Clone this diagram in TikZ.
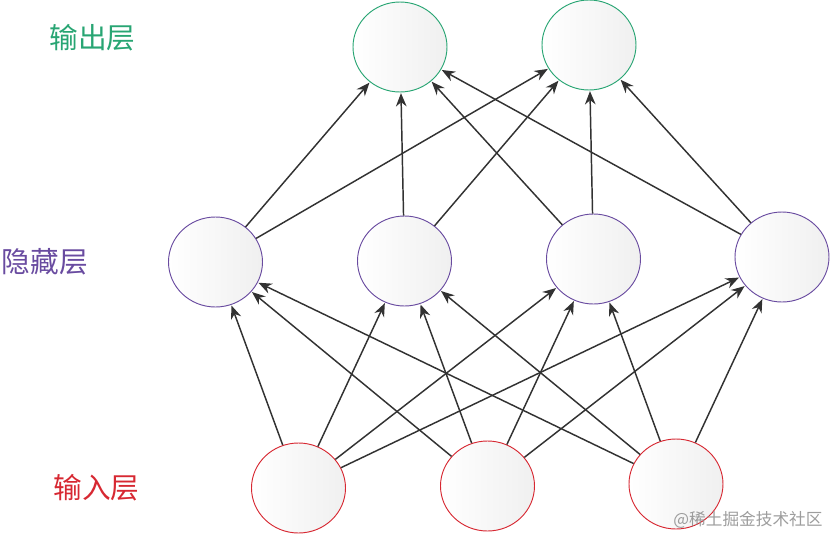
\documentclass[tikz,border=0pt]{standalone}
\usepackage{fontspec}
\newfontfamily\cjk{Noto Sans CJK SC}
\usetikzlibrary{arrows.meta,shapes.geometric}
\definecolor{outc}{RGB}{40,165,115}
\definecolor{hidc}{RGB}{105,75,160}
\definecolor{inc}{RGB}{215,40,50}
\definecolor{edgec}{RGB}{50,50,50}
\tikzset{
  neuron/.style={ellipse, minimum width=70.5pt, minimum height=67.5pt, inner sep=0pt,
    left color=white, right color=black!6, line width=0.7pt},
  outn/.style={neuron, draw=outc},
  hidn/.style={neuron, draw=hidc},
  inn/.style={neuron, draw=inc},
  conn/.style={draw=edgec, line width=1.1pt, -{Stealth[length=10pt,width=8pt]}, shorten >=0.5pt},
  lab/.style={font=\cjk\fontsize{21.5}{25}\selectfont, anchor=center, inner sep=0pt}
}
\begin{document}
\begin{tikzpicture}[x=0.75pt,y=-0.75pt]
\useasboundingbox (0,0) rectangle (833,536);
\node[outn] (o1) at (400,47) {};
\node[outn] (o2) at (589,45) {};
\node[hidn] (h1) at (215.5,262) {};
\node[hidn] (h2) at (404.5,261) {};
\node[hidn] (h3) at (593.5,259) {};
\node[hidn] (h4) at (782,257) {};
\node[inn] (i1) at (298.5,488) {};
\node[inn] (i2) at (487.5,486) {};
\node[inn] (i3) at (676,484) {};
\foreach \i in {1,2,3}{
  \foreach \h in {1,2,3,4}{
    \draw[conn] (i\i) -- (h\h);
  }
}
\foreach \h in {1,2,3,4}{
  \foreach \o in {1,2}{
    \draw[conn] (h\h) -- (o\o);
  }
}
\node[lab, text=outc] (l1) at (92.5,38) {输出层};
\node[lab, text=hidc] (l2) at (45,262) {隐藏层};
\node[lab, text=inc] (l3) at (96.5,488) {输入层};
\node[font=\cjk\fontsize{12.5}{14}\selectfont, text=black!45, opacity=0.85, anchor=center, inner sep=0pt] (wm) at (748,520) {@稀土掘金技术社区};
\end{tikzpicture}
\end{document}
